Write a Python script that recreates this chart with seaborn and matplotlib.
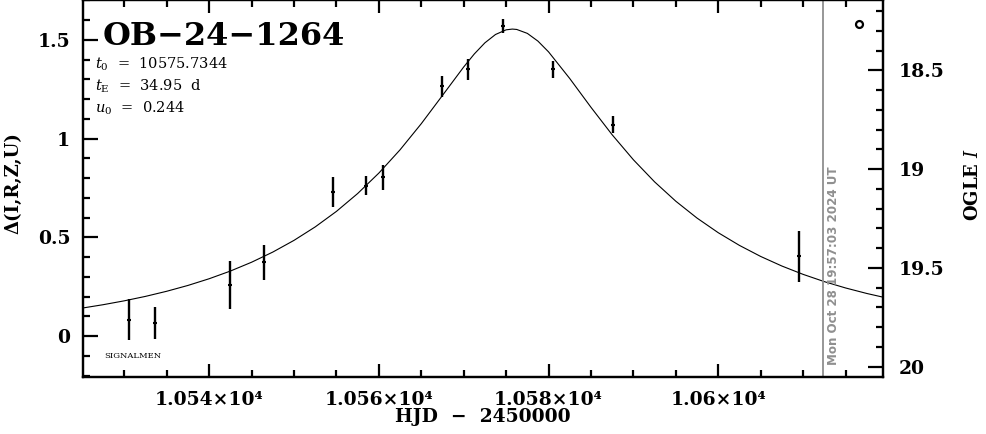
import numpy as np
import pandas as pd
import matplotlib
matplotlib.use("Agg")
import matplotlib.pyplot as plt
from matplotlib.ticker import MultipleLocator
from matplotlib.font_manager import FontProperties
import seaborn as sns

# ---------------- data ----------------
hjd = [10530.5, 10533.6, 10542.5, 10546.5, 10554.6, 10558.5, 10560.5,
       10567.5, 10570.5, 10574.6, 10580.5, 10587.6, 10609.5]
delta = [0.084, 0.067, 0.26, 0.375, 0.73, 0.763, 0.805,
         1.265, 1.351, 1.570, 1.351, 1.072, 0.404]
delta_err = [0.105, 0.082, 0.12, 0.089, 0.076, 0.048, 0.064,
             0.055, 0.053, 0.036, 0.044, 0.045, 0.128]

# model light curve (t0 = 10575.7344, tE = 34.95 d, u0 = 0.244), sampled values
model_t = [10525.0, 10527.5, 10530.0, 10532.5, 10535.0, 10537.5, 10540.0,
           10542.5, 10545.0, 10547.5, 10550.0, 10552.5, 10555.0, 10557.5,
           10560.0, 10562.5, 10565.0, 10567.5, 10570.0, 10571.25, 10572.5,
           10573.75, 10575.0, 10575.7344, 10576.25, 10577.5, 10578.75,
           10580.0, 10582.5, 10585.0, 10587.5, 10590.0, 10592.5, 10595.0,
           10597.5, 10600.0, 10602.5, 10605.0, 10607.5, 10610.0, 10612.5,
           10615.0, 10617.5, 10620.0]
model_delta = [0.1422, 0.1595, 0.1792, 0.2017, 0.2276, 0.2571, 0.2910,
               0.3299, 0.3746, 0.4260, 0.4853, 0.5535, 0.6320, 0.7224,
               0.8260, 0.9439, 1.0761, 1.2193, 1.3633, 1.4293, 1.4857,
               1.5279, 1.5515, 1.5553, 1.5534, 1.5335, 1.4943,
               1.4399, 1.3048, 1.1592, 1.0199, 0.8935, 0.7815, 0.6835,
               0.5982, 0.5241, 0.4598, 0.4039, 0.3554, 0.3132, 0.2764,
               0.2444, 0.2165, 0.1921]

baseline_mag = 19.846          # OGLE I at delta = 0
timestamp_hjd = 10612.4        # gray vertical line

xtick_vals = [10540, 10560, 10580, 10600]
xtick_labels = ["1.054×10⁴", "1.056×10⁴", "1.058×10⁴", "1.06×10⁴"]
ytick_vals = [0, 0.5, 1, 1.5]
ytick_labels = ["0", "0.5", "1", "1.5"]
mag_tick_vals = [18.5, 19, 19.5, 20]
mag_tick_labels = ["18.5", "19", "19.5", "20"]

event_name = "OB−24−1264"
param_lines = [r"$t_0$  =  10575.7344", r"$t_{\rm E}$  =  34.95  d", r"$u_0$  =  0.244"]
stamp_text = "Mon Oct 28 19:57:03 2024 UT"

# ---------------- style ----------------
sns.set_style("ticks")
plt.rcParams["font.family"] = ["DejaVu Serif", "DejaVu Sans"]
plt.rcParams["mathtext.fontset"] = "dejavuserif"
plt.rcParams["axes.linewidth"] = 1.6
for k in ["text.color", "axes.labelcolor", "xtick.color", "ytick.color",
          "axes.edgecolor", "xtick.labelcolor", "ytick.labelcolor"]:
    plt.rcParams[k] = "black"

fig = plt.figure(figsize=(9.86, 4.34), dpi=100)
ax = fig.add_axes([0.08387, 0.13203, 0.81197, 0.86682])

pts = pd.DataFrame({"hjd": hjd, "delta": delta, "err": delta_err})
model = pd.DataFrame({"t": model_t, "d": model_delta})

sns.lineplot(data=model, x="t", y="d", color="black", lw=0.8, ax=ax)
ax.errorbar(pts["hjd"], pts["delta"], yerr=pts["err"], fmt="none",
            ecolor="black", elinewidth=1.7, capsize=0)
sns.scatterplot(data=pts, x="hjd", y="delta", color="black", marker="_",
                s=10, linewidth=1.5, ax=ax)

ax.axvline(timestamp_hjd, color="#8f8f8f", lw=1.3)

ax.set_xlim(10525.1, 10619.45)
ax.set_ylim(-0.205, 1.7)

ax.set_xticks(xtick_vals, xtick_labels)
ax.xaxis.set_minor_locator(MultipleLocator(5))
ax.set_yticks(ytick_vals, ytick_labels)
ax.yaxis.set_minor_locator(MultipleLocator(0.1))

tick_font = FontProperties(family="DejaVu Serif", weight="bold", size=13.5)
for lab in ax.get_xticklabels() + ax.get_yticklabels():
    lab.set_fontproperties(tick_font)

ax.tick_params(axis="x", which="major", direction="in", length=9.5, width=1.6,
               top=True, bottom=True, pad=10)
ax.tick_params(axis="x", which="minor", direction="in", length=5, width=1.6,
               top=True, bottom=True)
ax.tick_params(axis="y", which="major", direction="in", length=10.8, width=1.6,
               left=True, right=False, pad=9)
ax.tick_params(axis="y", which="minor", direction="in", length=5, width=1.6,
               left=True, right=False)

ax.set_xlabel("HJD  −  2450000", fontsize=13.5, fontweight="bold")
ax.xaxis.label.set_va("center")
ax.xaxis.set_label_coords(0.5, -0.107)
ax.set_ylabel("Δ(I,R,Z,U)", fontsize=13, fontweight="bold")
ax.yaxis.label.set_va("center")
ax.yaxis.set_label_coords(-0.087, 0.515)

# right magnitude axis
ax2 = ax.twinx()
ax2.set_ylim(baseline_mag + 0.205, baseline_mag - 1.7)
ax2.set_yticks(mag_tick_vals, mag_tick_labels)
ax2.yaxis.set_minor_locator(MultipleLocator(0.1))
for lab in ax2.get_yticklabels():
    lab.set_fontproperties(tick_font)
ax2.tick_params(axis="y", which="major", direction="in", length=10.8, width=1.6,
                right=True, left=False, pad=11)
ax2.tick_params(axis="y", which="minor", direction="in", length=5, width=1.6,
                right=True, left=False)
ax2.set_ylabel("OGLE $I$", fontsize=13, fontweight="bold", rotation=90)
ax2.yaxis.label.set_va("center")
ax2.yaxis.set_label_coords(1.112, 0.51)
for sp in ax2.spines.values():
    sp.set_linewidth(1.6)

# annotations
ax.text(0.025, 0.8817, event_name, transform=ax.transAxes, fontsize=23,
        fontweight="bold", va="baseline", ha="left")
for txt, yb in zip(param_lines, [0.8198, 0.7603, 0.7029]):
    ax.text(0.0154, yb, txt, transform=ax.transAxes, fontsize=10.5,
            va="baseline", ha="left")
ax.text(0.0266, 0.0558, "SIGNALMEN", transform=ax.transAxes, fontsize=6,
        va="center", ha="left")
ax.text(0.9297, 0.031, stamp_text, transform=ax.transAxes, rotation=90,
        fontsize=8.6, fontweight="bold", color="#8f8f8f", family="DejaVu Sans",
        ha="left", va="bottom")
ax.plot([0.9697], [0.938], transform=ax.transAxes, marker="o", ms=5,
        mfc="white", mec="black", mew=1.6, ls="none")

fig.savefig("out.png", dpi=100)
